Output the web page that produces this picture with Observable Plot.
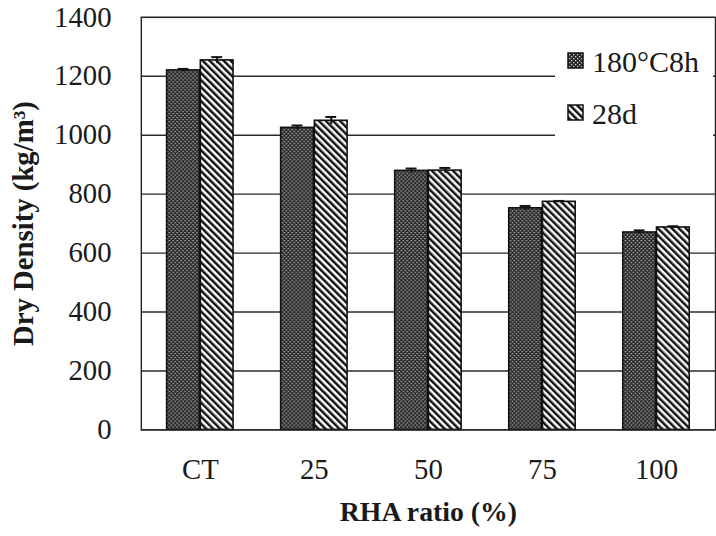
<!DOCTYPE html>
<html><head><meta charset="utf-8">
<script src="https://cdn.jsdelivr.net/npm/d3@7"></script>
<script src="https://cdn.jsdelivr.net/npm/@observablehq/plot@0.6"></script>
<style>
body{margin:0;background:#fff;}
#wrap{position:relative;width:716px;height:536px;overflow:hidden;font-family:"Liberation Serif","Times New Roman",serif;color:#1a1a1a;}
#wrap svg.plot{position:absolute;left:0;top:0;}
#legend{position:absolute;left:555px;top:32px;width:158px;height:134px;background:#fff;}
.item{position:absolute;left:12px;font-size:30px;line-height:1;white-space:nowrap;}
.item svg{position:absolute;left:0;}
.item span{position:absolute;left:25px;}
g[aria-label="y-axis tick label"] text, g[aria-label="x-axis tick label"] text{font-family:"Liberation Serif","Times New Roman",serif;}
g[aria-label="y-axis label"] text{font-weight:bold;font-size:29px;font-family:"Liberation Serif",serif;}
g[aria-label="x-axis label"] text{font-weight:bold;font-size:28px;font-family:"Liberation Serif",serif;}
</style></head>
<body><div id="wrap"></div>
<script>
const categories = ["CT", "25", "50", "75", "100"];
const series = ["180°C8h", "28d"];
const dry180 = [1220, 1025, 879, 752, 670];
const err180 = [5, 8, 8, 8, 7];
const dry28 = [1254, 1049, 880, 774, 687];
const err28 = [11, 13, 9, 3, 4];
const yTicks = [0, 200, 400, 600, 800, 1000, 1200, 1400];

const d180 = categories.map((c, i) => ({cat: c, s: series[0], v: dry180[i], e: err180[i]}));
const d28 = categories.map((c, i) => ({cat: c, s: series[1], v: dry28[i], e: err28[i]}));

function patternDefs(prefix) {
  const defs = d3.create("svg:defs");
  const p1 = defs.append("pattern").attr("id", prefix + "dots").attr("patternUnits", "userSpaceOnUse")
    .attr("width", 4).attr("height", 4);
  p1.append("rect").attr("width", 4).attr("height", 4).attr("fill", "#262626");
  p1.append("rect").attr("x", 0).attr("y", 0).attr("width", 1.3).attr("height", 1.3).attr("fill", "#cfcfcf");
  p1.append("rect").attr("x", 2).attr("y", 2).attr("width", 1.3).attr("height", 1.3).attr("fill", "#cfcfcf");
  const p2 = defs.append("pattern").attr("id", prefix + "hatch").attr("patternUnits", "userSpaceOnUse")
    .attr("width", 5).attr("height", 5).attr("patternTransform", "rotate(-45)");
  p2.append("rect").attr("width", 5).attr("height", 5).attr("fill", "#fff");
  p2.append("rect").attr("width", 2.5).attr("height", 5).attr("fill", "#111");
  return defs.node();
}

const bw = 68;
const plot = Plot.plot({
  width: 722,
  height: 536,
  marginLeft: 142,
  marginRight: 1,
  marginTop: 17,
  marginBottom: 103,
  style: {fontFamily: "Liberation Serif, serif", color: "#1a1a1a", background: "transparent"},
  x: {domain: categories, paddingInner: 0.414, paddingOuter: 0.207},
  y: {domain: [0, 1400]},
  marks: [
    () => patternDefs("m"),
    Plot.ruleY(yTicks, {stroke: "#2a2a2a", strokeWidth: 1.4}),
    Plot.barY(d180, {x: "cat", y: "v", fill: "url(#mdots)", stroke: "#111", strokeWidth: 1.6, insetRight: bw / 2}),
    Plot.barY(d28, {x: "cat", y: "v", fill: "url(#mhatch)", stroke: "#111", strokeWidth: 1.6, insetLeft: bw / 2}),
    Plot.ruleX(d180, {x: "cat", y1: d => d.v - d.e, y2: d => d.v + d.e, dx: -bw / 4, stroke: "#111", strokeWidth: 2}),
    Plot.ruleX(d28, {x: "cat", y1: d => d.v - d.e, y2: d => d.v + d.e, dx: bw / 4, stroke: "#111", strokeWidth: 2}),
    Plot.tickY(d180, {x: "cat", y: d => d.v + d.e, dx: -bw / 4, insetLeft: 28, insetRight: 28, stroke: "#111", strokeWidth: 2}),
    Plot.tickY(d28, {x: "cat", y: d => d.v + d.e, dx: bw / 4, insetLeft: 28, insetRight: 28, stroke: "#111", strokeWidth: 2}),
    Plot.frame({stroke: "#222", strokeWidth: 1.4}),
    Plot.axisY({ticks: yTicks, tickFormat: d => String(d), tickSize: 0, tickPadding: 30, fontSize: 29, label: "Dry Density (kg/m³)", labelArrow: "none", labelAnchor: "center", labelOffset: 130}),
    Plot.axisX({tickSize: 0, tickPadding: 29, fontSize: 29, label: "RHA ratio (%)", labelArrow: "none", labelAnchor: "center", labelOffset: 92})
  ]
});
plot.classList.add("plot");
const wrap = document.getElementById("wrap");
wrap.appendChild(plot);

// legend
const legend = document.createElement("div");
legend.id = "legend";
const fills = ["url(#ldots)", "url(#lhatch)"];
const tops = [15, 67];
series.forEach((s, i) => {
  const item = document.createElement("div");
  item.className = "item";
  item.style.top = tops[i] + "px";
  const sw = d3.create("svg").attr("width", 18).attr("height", 18).style("top", "5px");
  if (i === 0) sw.node().appendChild(patternDefs("l"));
  sw.append("rect").attr("x", 1).attr("y", 1).attr("width", 15).attr("height", 15)
    .attr("fill", fills[i]).attr("stroke", "#111").attr("stroke-width", 1.5);
  item.appendChild(sw.node());
  const t = document.createElement("span");
  t.textContent = s;
  item.appendChild(t);
  legend.appendChild(item);
});
wrap.appendChild(legend);
</script>
</body></html>
